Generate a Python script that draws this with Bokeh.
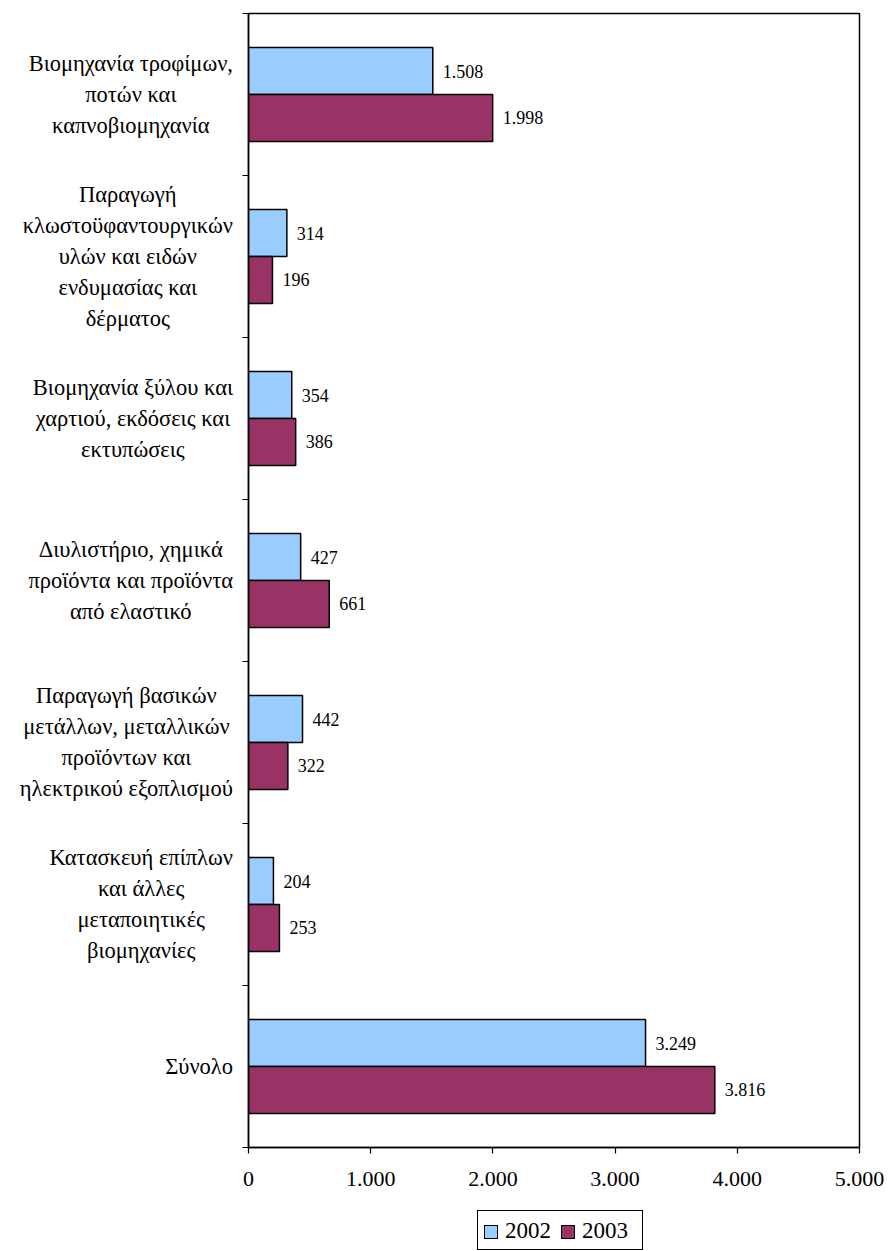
from bokeh.plotting import figure
from bokeh.models import Range1d, FixedTicker, ColumnDataSource, Div
from bokeh.layouts import row, column
from bokeh.core.properties import value
from bokeh.embed import file_html
from bokeh.resources import INLINE

categories = [
    "Βιομηχανία τροφίμων,\nποτών και\nκαπνοβιομηχανία",
    "Παραγωγή\nκλωστοϋφαντουργικών\nυλών και ειδών\nενδυμασίας και\nδέρματος",
    "Βιομηχανία ξύλου και\nχαρτιού, εκδόσεις και\nεκτυπώσεις",
    "Διυλιστήριο, χημικά\nπροϊόντα και προϊόντα\nαπό ελαστικό",
    "Παραγωγή βασικών\nμετάλλων, μεταλλικών\nπροϊόντων και\nηλεκτρικού εξοπλισμού",
    "Κατασκευή επίπλων\nκαι άλλες\nμεταποιητικές\nβιομηχανίες",
    "Σύνολο",
]
values_2002 = [1508, 314, 354, 427, 442, 204, 3249]
values_2003 = [1998, 196, 386, 661, 322, 253, 3816]
x_ticks = [0, 1000, 2000, 3000, 4000, 5000]
series_names = ["2002", "2003"]
series_colors = ["#99CCFF", "#993366"]

FONT = "Liberation Serif"
n = len(categories)
centers = [n - i - 0.5 for i in range(n)]
bar_h = 0.29

FRAME_W, FRAME_H, TOP, BOTTOM = 611, 1134, 13, 55
LABEL_W, AXIS_W, RIGHT_W = 236, 12, 30

def fmt(v):
    return f"{v:,}".replace(",", ".")

p = figure(frame_width=FRAME_W, frame_height=FRAME_H, x_range=Range1d(0, 5000), y_range=Range1d(0, n),
           output_backend="svg", toolbar_location=None,
           min_border_left=AXIS_W, min_border_top=TOP, min_border_right=RIGHT_W, min_border_bottom=BOTTOM)
p.background_fill_color = "white"
p.border_fill_color = "white"
p.outline_line_color = "black"
p.outline_line_width = 1.5
p.xgrid.visible = False
p.ygrid.visible = False

src02 = ColumnDataSource(dict(y=[c + bar_h / 2 for c in centers], right=values_2002,
                              lab=[fmt(v) for v in values_2002]))
src03 = ColumnDataSource(dict(y=[c - bar_h / 2 for c in centers], right=values_2003,
                              lab=[fmt(v) for v in values_2003]))

p.hbar(y="y", left=0, right="right", height=bar_h, source=src02,
       fill_color=series_colors[0], line_color="black", line_width=1.5)
p.hbar(y="y", left=0, right="right", height=bar_h, source=src03,
       fill_color=series_colors[1], line_color="black", line_width=1.5)

for s in (src02, src03):
    p.text(x="right", y="y", text="lab", source=s, x_offset=10, text_baseline="middle",
           text_align="left", text_font=value(FONT), text_font_size="18px", text_color="black")

# y axis: only boundary tick marks (category names are set in the block on the left)
ya = p.yaxis[0]
ya.ticker = FixedTicker(ticks=centers, minor_ticks=list(range(0, n + 1)))
ya.major_label_overrides = {c: "" for c in centers}
ya.major_label_text_font_size = "1px"
ya.major_label_standoff = 0
ya.major_tick_line_color = None
ya.minor_tick_line_color = "black"
ya.minor_tick_line_width = 1.2
ya.minor_tick_out = 6
ya.minor_tick_in = 0
ya.axis_line_color = "black"
ya.axis_line_width = 1.5

# x axis
xa = p.xaxis[0]
xa.ticker = FixedTicker(ticks=x_ticks, minor_ticks=[])
xa.major_label_overrides = {t: fmt(t) for t in x_ticks}
xa.major_tick_out = 6
xa.major_tick_in = 0
xa.major_tick_line_color = "black"
xa.major_tick_line_width = 1.2
xa.minor_tick_line_color = None
xa.axis_line_color = "black"
xa.axis_line_width = 1.5
xa.major_label_text_font = FONT
xa.major_label_text_font_size = "22px"
xa.major_label_text_color = "black"
xa.major_label_standoff = 18

# category names: each block right-aligned against the axis, lines centred (as in the source)
cat_h = FRAME_H / n
blocks = []
for i, c in enumerate(categories):
    cy = TOP + (i + 0.5) * cat_h
    blocks.append(
        f'<div style="position:absolute; right:3px; top:{cy:.1f}px; transform:translateY(-50%);'
        f' text-align:center; white-space:nowrap; font-family:\'{FONT}\', serif; font-size:22.5px;'
        f' line-height:31px; color:black;">' + c.replace("\n", "<br>") + '</div>')
labels_div = Div(text='<div style="position:relative; width:%dpx; height:%dpx;">%s</div>'
                 % (LABEL_W, TOP + FRAME_H, "".join(blocks)),
                 width=LABEL_W, height=TOP + FRAME_H, margin=0)

# legend box under the chart
total_w = LABEL_W + AXIS_W + FRAME_W + RIGHT_W
swatches = []
for k, (name, col) in enumerate(zip(series_names, series_colors)):
    swatches.append(
        f'<span style="display:inline-block; width:14px; height:14px; box-sizing:border-box;'
        f' background:{col}; border:1.5px solid black; margin:3px 7px 0 {0 if k == 0 else 10}px;"></span>'
        f'<span>{name}</span>')
legend_html = (
    f'<div style="position:relative; width:{total_w}px; height:48px;">'
    f'<div style="position:absolute; left:477px; top:8px; width:166px; height:40px; box-sizing:border-box;'
    f' border:1px solid black; display:flex; align-items:center; padding-left:6px;'
    f' font-family:\'{FONT}\', serif; font-size:23px; line-height:1; color:black; white-space:nowrap;">'
    + "".join(swatches) + '</div></div>')
legend_div = Div(text=legend_html, width=total_w, height=48, margin=0)

layout = column(row(labels_div, p, spacing=0), legend_div, spacing=0)
open("out.html", "w").write(file_html(layout, INLINE))
